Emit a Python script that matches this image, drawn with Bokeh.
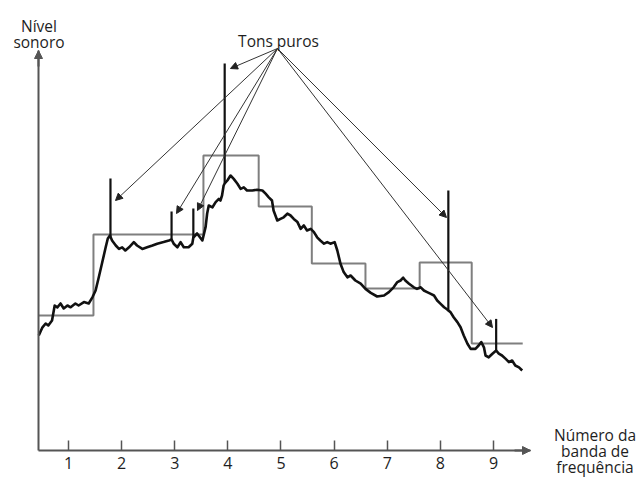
import numpy as np
from bokeh.plotting import figure
from bokeh.models import Arrow, NormalHead, Label, Range1d, FixedTicker
from bokeh.embed import file_html
from bokeh.resources import INLINE

# Frequency band numbers shown on the horizontal axis
bands = [1, 2, 3, 4, 5, 6, 7, 8, 9]

# Band-averaged sound level: band edges and the level held across each band
band_edges = [0.44, 1.47, 3.54, 4.58, 5.58, 6.59, 7.61, 8.59, 9.55]
band_levels = [33.75, 54, 73.75, 61, 46.75, 40.5, 47, 26.75]

# Narrow-band spectrum (continuous noise)
spec_x = [0.44, 0.51, 0.57, 0.62, 0.69, 0.74, 0.79, 0.85, 0.91, 0.98,
          1.04, 1.13, 1.19, 1.29, 1.38, 1.45, 1.51, 1.57, 1.63, 1.70,
          1.74, 1.78, 1.82, 1.89, 1.95, 2.01, 2.07, 2.14, 2.23, 2.29,
          2.39, 2.48, 2.58, 2.67, 2.79, 2.89, 2.94, 2.98, 3.05, 3.11,
          3.17, 3.26, 3.33, 3.35, 3.42, 3.52, 3.58, 3.61, 3.64, 3.71,
          3.77, 3.83, 3.86, 3.89, 3.92, 3.94, 3.99, 4.05, 4.11, 4.18,
          4.24, 4.30, 4.36, 4.46, 4.55, 4.65, 4.71, 4.77, 4.83, 4.86,
          4.93, 4.99, 5.05, 5.12, 5.18, 5.24, 5.31, 5.37, 5.43, 5.49,
          5.56, 5.62, 5.68, 5.74, 5.81, 5.87, 5.93, 6.01, 6.06, 6.12,
          6.18, 6.25, 6.31, 6.40, 6.50, 6.59, 6.69, 6.81, 6.94, 7.03,
          7.12, 7.19, 7.25, 7.30, 7.34, 7.41, 7.50, 7.56, 7.63, 7.69,
          7.75, 7.81, 7.88, 7.94, 8.00, 8.07, 8.13, 8.15, 8.19, 8.25,
          8.32, 8.38, 8.44, 8.51, 8.57, 8.66, 8.72, 8.77, 8.82, 8.85,
          8.91, 8.98, 9.05, 9.10, 9.16, 9.23, 9.29, 9.35, 9.41, 9.48,
          9.54]
spec_level = [28.75, 30.8, 31.75, 31.25, 32.5, 36.25, 35.8, 36.75, 35.5, 36.25,
              35.8, 36.75, 36.25, 37.1, 36.75, 38.3, 40.0, 43.3, 46.75, 50.8,
              53.0, 53.75, 52.5, 51.25, 50.4, 50.8, 50.0, 50.8, 52.1, 51.25,
              50.4, 50.8, 51.25, 51.7, 52.1, 52.5, 52.75, 51.7, 50.8, 52.1,
              50.8, 50.8, 51.7, 53.25, 54.25, 52.5, 55.8, 59.25, 61.25, 60.8,
              62.1, 62.9, 62.5, 63.75, 66.25, 66.75, 67.5, 68.75, 67.9, 66.7,
              65.4, 65.8, 65.0, 65.0, 65.2, 65.0, 64.2, 63.3, 62.5, 60.0,
              57.5, 57.9, 58.3, 59.2, 58.75, 57.9, 57.1, 55.4, 56.25, 55.0,
              55.4, 54.6, 53.3, 52.5, 51.7, 52.1, 51.7, 52.1, 50.0, 46.7,
              44.6, 43.3, 43.75, 42.5, 41.7, 40.4, 39.4, 38.5, 38.75, 39.6,
              40.8, 42.1, 42.5, 43.2, 42.5, 41.7, 40.8, 40.4, 40.8, 40.0,
              39.6, 39.2, 38.75, 37.5, 36.7, 35.8, 35.25, 35.0, 34.6, 33.3,
              32.1, 30.8, 28.75, 26.7, 25.4, 25.4, 26.25, 27.1, 25.8, 23.75,
              23.3, 24.2, 25.0, 24.2, 23.75, 22.9, 22.1, 22.5, 21.25, 20.8,
              20.0]

# Pure tones: band position and peak level
tone_x = [1.79, 2.94, 3.35, 3.94, 8.15, 9.05]
tone_top = [68.0, 59.75, 60.5, 96.75, 65.0, 32.9]

# Where each "Tons puros" pointer ends, next to its tone
pointer_x = [1.885, 3.033, 3.428, 4.049, 8.115, 8.981]
pointer_y = [62.5, 59.25, 60.0, 95.5, 58.25, 30.75]
pointer_origin = (4.934, 100.5)

FONT = "Open Sans"
TEXT = "#1e1e1e"
AXIS = "#555555"

W, H = 639, 477
# Axis extents (data units)
AX0, AX1 = 0.4353, 9.6965
AY0, AY1 = 0.0, 100.0
# 53.125 px per band, 4 px per level unit; axes cross at pixel (38, 450)
PX_PER_X, PX_PER_Y = 53.125, 4.0
ORIGIN_PX, ORIGIN_PY = 38, 450
XR0 = AX0 - ORIGIN_PX / PX_PER_X
XR1 = AX0 + (W - ORIGIN_PX) / PX_PER_X
YR0 = AY0 - (H - ORIGIN_PY) / PX_PER_Y
YR1 = AY0 + ORIGIN_PY / PX_PER_Y

p = figure(width=W, height=H, output_backend="svg", toolbar_location=None,
           x_range=Range1d(XR0, XR1), y_range=Range1d(YR0, YR1),
           min_border=0)
p.outline_line_color = None
p.grid.visible = False
p.background_fill_color = "white"
p.border_fill_color = "white"

# Axes placed inside the plot area, ticks pointing up, no y ticks
p.xaxis.fixed_location = AY0
p.xaxis.bounds = (AX0, AX1)
p.xaxis.ticker = FixedTicker(ticks=bands)
p.xaxis.minor_tick_line_color = None
p.xaxis.major_tick_in = 10
p.xaxis.major_tick_out = 0
p.xaxis.major_tick_line_color = AXIS
p.xaxis.major_tick_line_width = 1.5
p.xaxis.axis_line_color = AXIS
p.xaxis.axis_line_width = 2
p.xaxis.major_label_standoff = 6
p.xaxis.major_label_text_font = FONT
p.xaxis.major_label_text_font_size = "16px"
p.xaxis.major_label_text_color = TEXT

p.yaxis.fixed_location = AX0
p.yaxis.bounds = (AY0, AY1)
p.yaxis.ticker = FixedTicker(ticks=[])
p.yaxis.minor_tick_line_color = None
p.yaxis.major_label_text_font_size = "0px"
p.yaxis.axis_line_color = AXIS
p.yaxis.axis_line_width = 2

# Arrow heads at the axis ends
for xs, ys, xe, ye in [(AX1 - 0.3, AY0, AX1, AY0), (AX0, AY1 - 4, AX0, AY1)]:
    p.add_layout(Arrow(end=NormalHead(size=8, fill_color=AXIS, line_color=AXIS),
                       x_start=xs, y_start=ys, x_end=xe, y_end=ye,
                       line_color=AXIS, line_width=2))

# Band levels as a staircase
step_x = band_edges
step_y = band_levels + [band_levels[-1]]
p.step(step_x, step_y, mode="after", line_color="#7f7f7f", line_width=2)

# Continuous spectrum and the pure-tone peaks
p.line(spec_x, spec_level, line_color="#111111", line_width=2.6, line_join="round")
tone_base = np.interp(tone_x, spec_x, spec_level)
p.segment(x0=tone_x, y0=tone_base, x1=tone_x, y1=tone_top,
          line_color="#111111", line_width=2.2)

# Pointers from the "Tons puros" caption
ox, oy = pointer_origin
for tx, ty in zip(pointer_x, pointer_y):
    p.add_layout(Arrow(end=NormalHead(size=7, fill_color="#222222", line_color="#222222", line_width=1),
                       x_start=ox, y_start=oy, x_end=tx, y_end=ty,
                       line_color="#333333", line_width=1))


def dx(px):
    return XR0 + px / PX_PER_X


def dy(py):
    return YR1 - py / PX_PER_Y


def caption(text, px, py):
    p.add_layout(Label(x=dx(px), y=dy(py), text=text, text_align="center",
                       text_baseline="alphabetic", text_font=FONT,
                       text_font_size="15.5px", text_color=TEXT))


caption("Tons puros", 278, 40.5)
caption("Nível", 38.5, 25.5)
caption("sonoro", 38.5, 41)
caption("Número da", 594.5, 434)
caption("banda de", 594.5, 450)
caption("frequência", 594.5, 466)

open("out.html", "w").write(file_html(p, INLINE))
